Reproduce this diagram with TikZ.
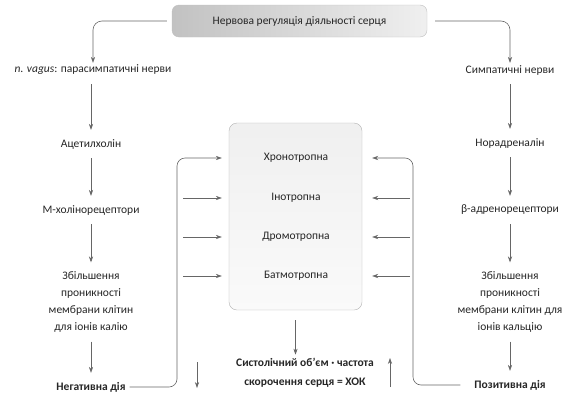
\documentclass[tikz,border=0pt]{standalone}
\usepackage{fontspec}
\setmainfont{Carlito}
\usetikzlibrary{arrows.meta}

\begin{document}
\begin{tikzpicture}[x=1pt,y=-1pt,line join=round,
    txt/.style={text=black!85,font=\fontsize{11.5}{17}\selectfont,align=center,inner sep=1pt},
    bld/.style={txt,font=\bfseries\fontsize{11.5}{19}\selectfont},
    arr/.style={draw=black!60,line width=0.6pt,-{Stealth[length=6pt,width=4.2pt]}},
    col/.style={arr,shorten <=8pt,shorten >=8pt}]
    \useasboundingbox (0,0) rectangle (580,399);

    \node[txt,draw=black!25,rounded corners=7pt,minimum width=255pt,minimum height=32pt,
          left color=black!24,right color=black!6] (nerv) at (299.5,21) {Нервова регуляція діяльності серця};

    \node[txt] (vagus) at (93,70) {\textit{n. vagus}: парасимпатичні нерви};
    \node[txt] (acet) at (91,144) {Ацетилхолін};
    \node[txt] (mchol) at (91,210) {М-холінорецептори};
    \node[txt] (kal) at (91,302) {Збільшення\\проникності\\мембрани клітин\\для іонів калію};
    \node[bld] (neg) at (91,387) {Негативна дія};

    \node[txt] (simp) at (510,70) {Симпатичні нерви};
    \node[txt] (norad) at (510,143) {Норадреналін};
    \node[txt] (beta) at (510,210) {β-адренорецептори};
    \node[txt] (kalc) at (510,302) {Збільшення\\проникності\\мембрани клітин для\\іонів кальцію};
    \node[bld] (pos) at (510,385) {Позитивна дія};

    \node[draw=black!30,rounded corners=8pt,minimum width=133pt,minimum height=187pt,
          top color=black!6,bottom color=black!2] (heart) at (295.5,216.5) {};
    \node[txt] (chrono) at (296,158) {Хронотропна};
    \node[txt] (ino) at (296,198) {Інотропна};
    \node[txt] (dromo) at (296,237) {Дромотропна};
    \node[txt] (batmo) at (296,276) {Батмотропна};

    \node[bld] (hok) at (305,372.5) {Систолічний об’єм · частота\\скорочення серця = ХОК};

    \draw[arr,rounded corners=9pt,shorten <=5pt,shorten >=1pt] (nerv.west) -| (vagus.north);
    \draw[arr,rounded corners=9pt,shorten <=8pt,shorten >=1pt] (nerv.east) -| (simp.north);

    \draw[col] (vagus.south -| acet) -- (acet);
    \draw[col] (acet) -- (mchol);
    \draw[col] (mchol) -- (kal);
    \draw[col] (kal) -- (neg);
    \draw[col] (simp) -- (norad);
    \draw[col] (norad) -- (beta);
    \draw[col] (beta) -- (kalc);
    \draw[col] (kalc) -- (pos);

    \coordinate (lbus) at (177,0);
    \coordinate (lin) at (183,0);
    \coordinate (rbus) at (413,0);
    \coordinate (rin) at (410,0);

    \draw[arr,rounded corners=8pt,shorten <=3pt,shorten >=7pt] (neg.east) -| (lbus |- chrono) -- (heart.west |- chrono);
    \draw[arr,rounded corners=8pt,shorten <=13pt,shorten >=10pt] (pos.west) -| (rbus |- chrono) -- (heart.east |- chrono);
    \foreach \n in {ino,dromo,batmo} {
        \draw[arr,shorten >=7pt] (lin |- \n) -- (heart.west |- \n);
        \draw[arr,shorten >=10pt] (rin |- \n) -- (heart.east |- \n);
    }

    \draw[arr,shorten <=10pt,shorten >=2pt] (heart.south) -- (heart.south |- hok.north);

    \coordinate (dnA) at (197,362);
    \coordinate (dnB) at (197,388);
    \coordinate (upA) at (390,387);
    \coordinate (upB) at (390,358);
    \draw[arr] (dnA) -- (dnB);
    \draw[arr] (upA) -- (upB);
\end{tikzpicture}
\end{document}
